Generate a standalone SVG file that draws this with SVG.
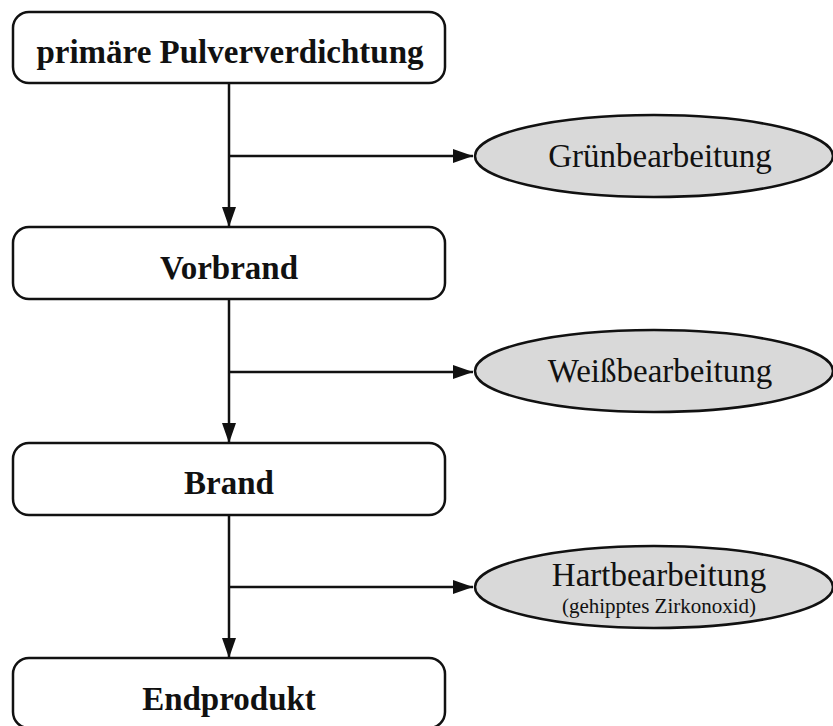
<svg xmlns="http://www.w3.org/2000/svg" width="833" height="726" viewBox="0 0 833 726">
<defs>
<marker id="ah" markerWidth="20" markerHeight="14" refX="20" refY="7" orient="auto" markerUnits="userSpaceOnUse">
<path d="M0,0 L20,7 L0,14 Z" fill="#111"/>
</marker>
<style>
.box{fill:#fff;stroke:#111;stroke-width:2.5}
.ell{fill:#d9d9d9;stroke:#111;stroke-width:2.5}
.btxt{font-family:"Liberation Serif","Times New Roman",serif;font-weight:bold;font-size:33px;fill:#111;text-anchor:middle}
.etxt{font-family:"Liberation Serif","Times New Roman",serif;font-size:33px;fill:#111;text-anchor:middle}
.stxt{font-family:"Liberation Serif","Times New Roman",serif;font-size:21px;fill:#111;text-anchor:middle}
.con{stroke:#111;stroke-width:2.5;fill:none}
</style>
</defs>
<rect width="833" height="726" fill="#fff"/>
<g id="connectors">
<line class="con" x1="229" y1="83" x2="229" y2="227" marker-end="url(#ah)"/>
<line class="con" x1="229" y1="156" x2="473" y2="156" marker-end="url(#ah)"/>
<line class="con" x1="229" y1="299" x2="229" y2="443" marker-end="url(#ah)"/>
<line class="con" x1="229" y1="372" x2="473" y2="372" marker-end="url(#ah)"/>
<line class="con" x1="229" y1="515" x2="229" y2="658" marker-end="url(#ah)"/>
<line class="con" x1="229" y1="587" x2="473" y2="587" marker-end="url(#ah)"/>
</g>
<g id="n1">
<rect class="box" x="13" y="12" width="432" height="71" rx="16"/>
<text class="btxt" x="230" y="63">primäre Pulververdichtung</text>
</g>
<g id="n2">
<rect class="box" x="13" y="227" width="432" height="72" rx="16"/>
<text class="btxt" x="229" y="279">Vorbrand</text>
</g>
<g id="n3">
<rect class="box" x="13" y="443" width="432" height="72" rx="16"/>
<text class="btxt" x="229" y="494">Brand</text>
</g>
<g id="n4">
<rect class="box" x="13" y="658" width="432" height="70" rx="16"/>
<text class="btxt" x="229" y="710">Endprodukt</text>
</g>
<g id="e1">
<ellipse class="ell" cx="654" cy="156" rx="179" ry="41"/>
<text class="etxt" x="660" y="167">Grünbearbeitung</text>
</g>
<g id="e2">
<ellipse class="ell" cx="654" cy="371" rx="179" ry="41"/>
<text class="etxt" x="660" y="382">Weißbearbeitung</text>
</g>
<g id="e3">
<ellipse class="ell" cx="654" cy="587" rx="179" ry="41"/>
<text class="etxt" x="659" y="586">Hartbearbeitung</text>
<text class="stxt" x="659" y="613">(gehipptes Zirkonoxid)</text>
</g>
</svg>
